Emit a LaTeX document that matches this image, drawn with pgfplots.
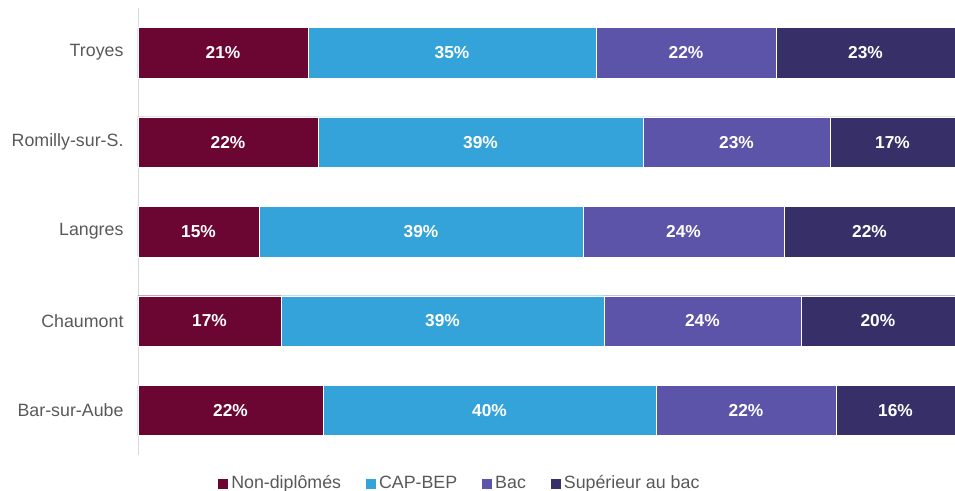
\documentclass[border=0pt]{standalone}
\usepackage{pgfplots}
\usepackage{pgfplotstable}
\pgfplotsset{compat=1.18}
\usepackage{fontspec}
\setmainfont{Liberation Sans}
\definecolor{cNon}{HTML}{6B0633}
\definecolor{cCap}{HTML}{34A3D9}
\definecolor{cBac}{HTML}{5B54A8}
\definecolor{cSup}{HTML}{373068}
\definecolor{txt}{HTML}{595959}
\newcommand{\lblfont}{\fontsize{17.8pt}{20pt}\selectfont}
\newcommand{\valfont}{\fontsize{17.3pt}{20pt}\selectfont\bfseries}
\pgfplotstableread{
city non cap bac sup lnon lcap lbac lsup
0 20.81 35.25 22.03 21.91 21 35 22 23
1 22.03 39.78 22.89 15.30 22 39 23 17
2 14.81 39.66 24.60 20.93 15 39 24 22
3 17.50 39.53 24.11 18.85 17 39 24 20
4 22.64 40.76 22.03 14.57 22 40 22 16
}\data
\begin{document}
\begin{tikzpicture}
\begin{axis}[
  name=ax,
  scale only axis,
  width=817pt, height=447pt,
  xbar stacked,
  bar width=0.565,
  y dir=reverse,
  xmin=0, xmax=100,
  ymin=-0.5, ymax=4.5,
  enlargelimits=false,
  axis lines*=left,
  x axis line style={draw=none},
  y axis line style={draw=black!15, line width=0.8pt},
  xtick=\empty,
  ytick={0,1,2,3,4},
  yticklabels={Troyes,Romilly-sur-S.,Langres,Chaumont,Bar-sur-Aube},
  major tick length=0pt,
  tick label style={font=\lblfont},
  yticklabel style={color=txt, xshift=-11pt},
  point meta=explicit symbolic,
  nodes near coords={\valfont\pgfplotspointmeta\%},
  nodes near coords style={color=white, anchor=center},
  legend columns=4,
  legend style={at={(axis description cs:0.098,-0.064)}, anchor=west, draw=none, inner sep=0pt,
     font=\lblfont, text=txt,
     /tikz/every even column/.append style={column sep=22pt},
     nodes={inner xsep=3pt, inner ysep=0pt, text height=13pt, text depth=4pt}},
  legend image code/.code={\fill[#1,draw=none] (0pt,-5pt) rectangle (10pt,5pt);},
]
\addplot[fill=cNon, draw=white, line width=0.3pt] table[x=non, y=city, meta=lnon] {\data};
\addplot[fill=cCap, draw=white, line width=0.3pt] table[x=cap, y=city, meta=lcap] {\data};
\addplot[fill=cBac, draw=white, line width=0.3pt] table[x=bac, y=city, meta=lbac] {\data};
\addplot[fill=cSup, draw=white, line width=0.3pt] table[x=sup, y=city, meta=lsup] {\data};
\legend{Non-diplômés,CAP-BEP,Bac,Supérieur au bac}
\end{axis}
\pgfresetboundingbox
\path ([shift={(-138pt,-35pt)}]ax.south west) rectangle ([shift={(0pt,8pt)}]ax.north east);
\end{tikzpicture}
\end{document}
